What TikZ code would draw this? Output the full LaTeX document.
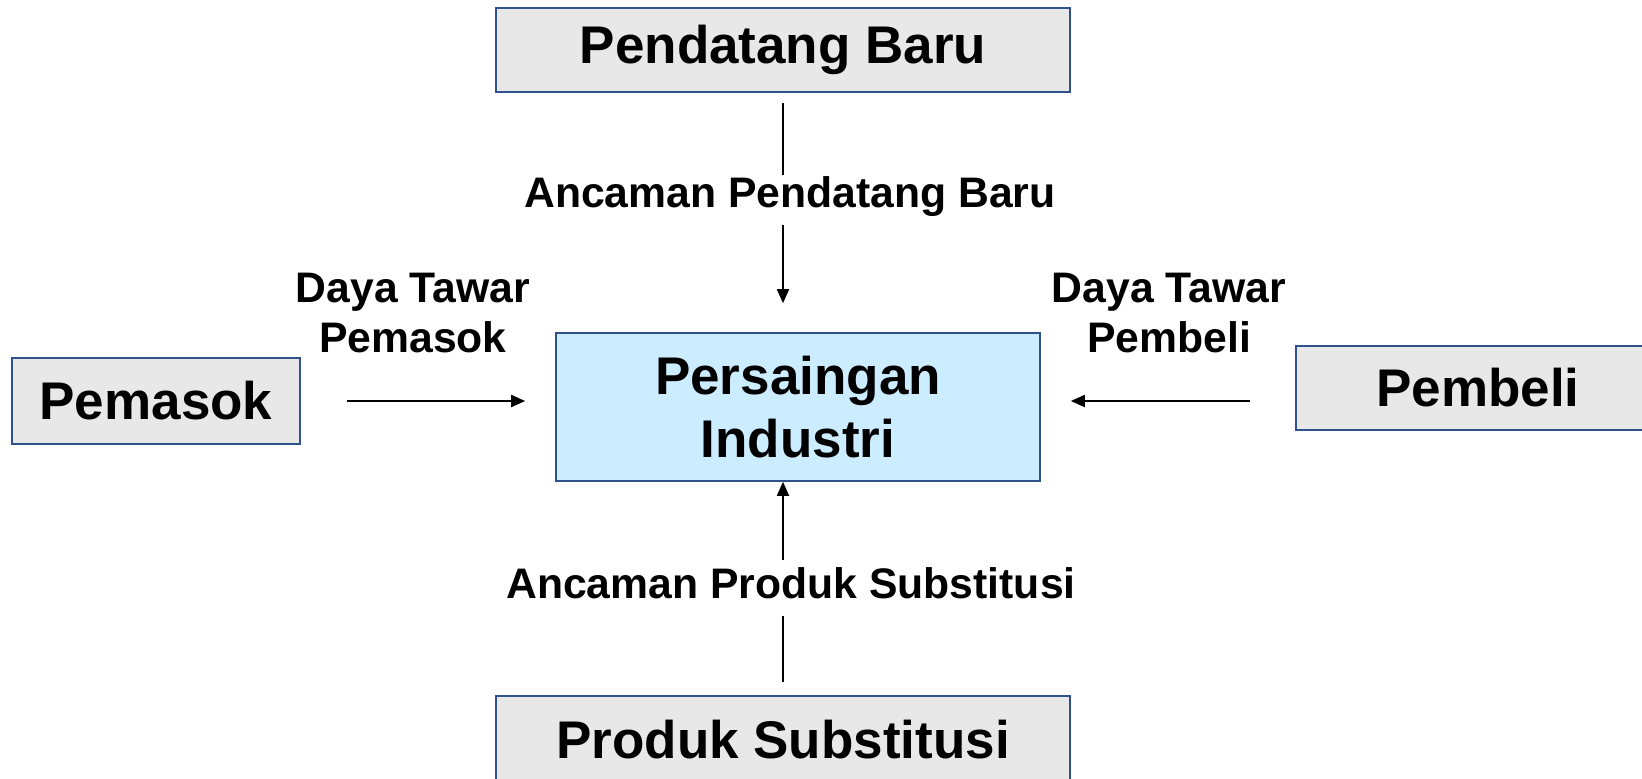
\documentclass[tikz,border=0pt]{standalone}
\usepackage{fontspec}
\setmainfont{Liberation Sans}
\usetikzlibrary{arrows.meta}
\definecolor{boxline}{RGB}{47,82,143}
\definecolor{boxgray}{RGB}{232,232,232}
\definecolor{boxblue}{RGB}{204,236,255}
\tikzset{
  force/.style={draw=boxline, line width=1.6pt, fill=boxgray, inner sep=0pt,
    font=\fontsize{53}{63}\selectfont\bfseries, align=center},
  forcelabel/.style={inner sep=0pt, text height=30pt, text depth=9pt,
    font=\fontsize{42.7}{50}\selectfont\bfseries, align=center},
  conn/.style={line width=1.8pt},
  arr/.style={conn, -{Triangle[length=14pt,width=12pt]}}
}
\begin{document}
\begin{tikzpicture}[x=1pt,y=-1pt]
  \useasboundingbox (0,0) rectangle (1642,779);
  \node[force, minimum width=574pt, minimum height=84pt] (entrant) at (783,50) {Pendatang Baru};
  \node[force, minimum width=288pt, minimum height=86pt] (supplier) at (156,401) {Pemasok};
  \node[force, fill=boxblue, minimum width=484pt, minimum height=148pt] (rivalry) at (798,407) {Persaingan\\Industri};
  \node[force, minimum width=364pt, minimum height=84pt] (buyer) at (1478,388) {Pembeli};
  \node[force, minimum width=574pt, minimum height=88pt] (subst) at (783,740) {Produk Substitusi};
  \node[forcelabel] (lentrant) at (790,197) {Ancaman Pendatang Baru};
  \node[forcelabel] (lsubst) at (791,588) {Ancaman Produk Substitusi};
  \node[forcelabel, text height=, text depth=] (lsupplier) at (413,313) {Daya Tawar\\Pemasok};
  \node[forcelabel, text height=, text depth=] (lbuyer) at (1169,313) {Daya Tawar\\Pembeli};
  \draw[conn, shorten <=10pt, shorten >=22.5pt] (entrant.south) -- (entrant.south |- lentrant.center);
  \draw[arr, shorten <=8.5pt, shorten >=29pt] (entrant.south |- lentrant.south) -- (entrant.south |- rivalry.north);
  \draw[conn, shorten <=13pt, shorten >=8.5pt] (subst.north) -- (subst.north |- lsubst.south);
  \draw[arr, shorten <=8.5pt] (subst.north |- lsubst.north) -- (subst.north |- rivalry.south);
  \draw[arr, shorten <=46pt, shorten >=30pt] (supplier.east) -- (supplier.east -| rivalry.west);
  \draw[arr, shorten <=45pt, shorten >=30pt] (buyer.west |- supplier.east) -- (rivalry.east |- supplier.east);
\end{tikzpicture}
\end{document}
